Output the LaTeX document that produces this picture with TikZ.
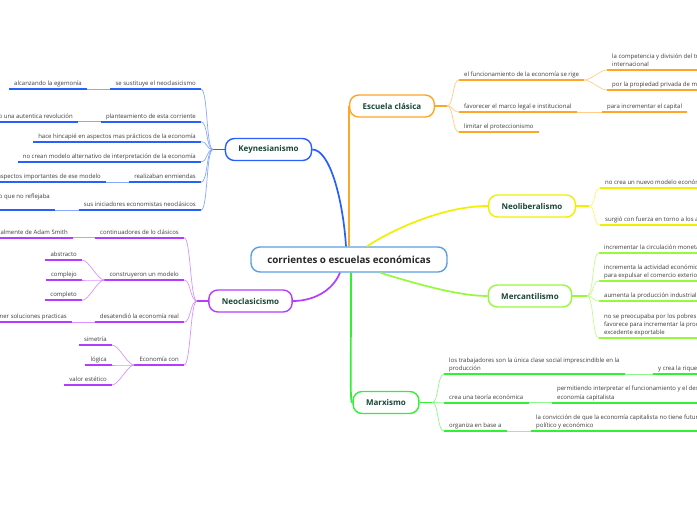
\documentclass[tikz,border=0pt]{standalone}
\usepackage{fontspec}
\setmainfont{Open Sans}
\usetikzlibrary{positioning}

\definecolor{rootC}{RGB}{90,160,225}
\definecolor{keyC}{RGB}{40,95,255}
\definecolor{eclC}{RGB}{255,165,40}
\definecolor{nlibC}{RGB}{240,240,0}
\definecolor{mercC}{RGB}{150,250,60}
\definecolor{marxC}{RGB}{50,240,50}
\definecolor{nclC}{RGB}{180,60,255}
\definecolor{labelC}{RGB}{25,70,55}
\definecolor{textC}{RGB}{60,60,60}

\tikzset{
  topic/.style={draw=#1, line width=1.4pt, fill=white, rounded corners=9pt,
    minimum height=22pt, inner xsep=13pt, text=labelC,
    font=\fontsize{8}{9.5}\selectfont\bfseries},
  sub/.style={inner xsep=5pt, inner ysep=1pt, text=textC, align=left,
    font=\fontsize{6}{8.3}\selectfont, execute at end node=\strut,
    append after command={(\tikzlastnode.south west) edge[draw=#1, line width=1.7pt] (\tikzlastnode.south east)}},
  trunk/.style={draw=#1, line width=1.7pt},
  stem/.style={draw=#1, line width=1.7pt},
  twig/.style={draw=#1!55, line width=0.7pt, out distance=7pt, in distance=7pt},
}

\begin{document}
\begin{tikzpicture}[x=1pt,y=-1pt]
    \useasboundingbox (0,0) rectangle (697,520);
    \fill[white] (0,0) rectangle (697,520);
    \clip (0,0) rectangle (697,520);

    % Central topic and main topics
    \node[topic=rootC, minimum width=196pt, minimum height=25pt, text=black!85,
      font=\fontsize{9.8}{11}\selectfont\bfseries] (root) at (349,259.5) {corrientes o escuelas económicas};
    \node[topic=eclC] (ecl) at (392,106) {Escuela clásica};
    \node[topic=keyC] (key) at (268.5,149.5) {Keynesianismo};
    \node[topic=nlibC] (nlib) at (532,206) {Neoliberalismo};
    \node[topic=mercC] (merc) at (530,296) {Mercantilismo};
    \node[topic=nclC] (ncl) at (250.5,301) {Neoclasicismo};
    \node[topic=marxC] (marx) at (386,402.5) {Marxismo};

    % Connectors from the central topic
    \draw[trunk=keyC] ([xshift=-3pt]root.north) .. controls (343,200) and (330,149.5) .. (key.east);
    \draw[trunk=eclC] (root.north -| ecl.west) -- (ecl.west);
    \draw[trunk=nlibC] ([xshift=18pt]root.north) .. controls (395,228) and (445,206) .. (nlib.west);
    \draw[trunk=mercC] ([xshift=31pt]root.south) .. controls (420,285) and (460,296) .. (merc.west);
    \draw[trunk=nclC] ([xshift=-9pt]root.south) .. controls (332,292) and (312,301) .. (ncl.east);
    \draw[trunk=marxC] ([xshift=2pt]root.south) .. controls (351,390) and (350,402.5) .. (marx.west);

    % Escuela clasica
    \coordinate (eclfork) at (447,106);
    \draw[stem=eclC] (ecl.east) -- (eclfork);
    \node[sub=eclC, anchor=south west] (ecl1) at (459,80) {el funcionamiento de la economía se rige};
    \node[sub=eclC, anchor=south west] (ecl2) at (459,112) {favorecer el marco legal e institucional};
    \node[sub=eclC, anchor=south west] (ecl3) at (459,132) {limitar el proteccionismo};
    \foreach \n in {ecl1,ecl2,ecl3}
        \draw[twig=eclC] (eclfork) to[out=0,in=180] (\n.south west);
    \node[sub=eclC, anchor=south west] (ecl1a) at (607,70) {la competencia  y división del trabajo\\internacional};
    \node[sub=eclC, anchor=south west] (ecl1b) at (607,90) {por la propiedad privada de medios de producción};
    \node[sub=eclC, anchor=south west] (ecl2a) at (602,112) {para incrementar el capital};
    \draw[twig=eclC] (ecl1.south east) to[out=0,in=180] (ecl1a.south west);
    \draw[twig=eclC] (ecl1.south east) to[out=0,in=180] (ecl1b.south west);
    \draw[twig=eclC] (ecl2.south east) -- (ecl2a.south west);

    % Keynesianismo
    \coordinate (keyfork) at (213,149.5);
    \draw[stem=keyC] (key.west) -- (keyfork);
    \node[sub=keyC, anchor=south east] (key1) at (201,89.3) {se sustituye el neoclasicismo};
    \node[sub=keyC, anchor=south east] (key2) at (201,121.7) {planteamiento de esta corriente};
    \node[sub=keyC, anchor=south east] (key3) at (201,141.7) {hace hincapié en aspectos mas prácticos de la economía};
    \node[sub=keyC, anchor=south east] (key4) at (201,161.7) {no crean modelo alternativo de interpretación de la economía};
    \node[sub=keyC, anchor=south east] (key5) at (201,182.3) {realizaban enmiendas};
    \node[sub=keyC, anchor=south east] (key6) at (201,210) {sus iniciadores economistas neoclásicos};
    \foreach \n in {key1,key2,key3,key4,key5,key6}
        \draw[twig=keyC] (keyfork) to[out=180,in=0] (\n.south east);
    \node[sub=keyC, anchor=south east] (key1a) at (87,89.3) {alcanzando la egemonía};
    \node[sub=keyC, anchor=south east] (key2a) at (78,121.7) {o una autentica revolución};
    \node[sub=keyC, anchor=south east] (key5a) at (106,182.3) {aspectos importantes de ese modelo};
    \node[sub=keyC, anchor=south east] (key6a) at (55,210) {o que no reflejaba\\\mbox{}};
    \draw[twig=keyC] (key1.south west) -- (key1a.south east);
    \draw[twig=keyC] (key2.south west) -- (key2a.south east);
    \draw[twig=keyC] (key5.south west) -- (key5a.south east);
    \draw[twig=keyC] (key6.south west) -- (key6a.south east);

    % Neoliberalismo
    \coordinate (nlibfork) at (589,206);
    \draw[stem=nlibC] (nlib.east) -- (nlibfork);
    \node[sub=nlibC, anchor=south west] (nlib1) at (600,188.3) {no crea un nuevo modelo económico};
    \node[sub=nlibC, anchor=south west] (nlib2) at (600,225.3) {surgió con fuerza en torno a los años setenta};
    \foreach \n in {nlib1,nlib2}
        \draw[twig=nlibC] (nlibfork) to[out=0,in=180] (\n.south west);

    % Mercantilismo
    \coordinate (mercfork) at (587,296);
    \draw[stem=mercC] (merc.east) -- (mercfork);
    \node[sub=mercC, anchor=south west] (merc1) at (599,252.7) {incrementar la circulación monetaria};
    \node[sub=mercC, anchor=south west] (merc2) at (599,281) {incrementa la actividad económica interna\\para expulsar el comercio exterior};
    \node[sub=mercC, anchor=south west] (merc3) at (599,301) {aumenta la producción industrial y agrícola};
    \node[sub=mercC, anchor=south west] (merc4) at (599,338.3) {no se preocupaba por los pobres ya que\\favorece para incrementar la producción y el\\excedente exportable};
    \foreach \n in {merc1,merc2,merc3,merc4}
        \draw[twig=mercC] (mercfork) to[out=0,in=180] (\n.south west);

    % Neoclasicismo
    \coordinate (nclfork) at (197,301);
    \draw[stem=nclC] (ncl.west) -- (nclfork);
    \node[sub=nclC, anchor=south east] (ncl1) at (184,237.7) {continuadores de lo clásicos};
    \node[sub=nclC, anchor=south east] (ncl2) at (184,280) {construyeron  un modelo};
    \node[sub=nclC, anchor=south east] (ncl3) at (184,322.3) {desatendió la economía real};
    \node[sub=nclC, anchor=south east] (ncl4) at (184,365) {Economía con};
    \foreach \n in {ncl1,ncl2,ncl3,ncl4}
        \draw[twig=nclC] (nclfork) to[out=180,in=0] (\n.south east);
    \node[sub=nclC, anchor=south east] (ncl1a) at (73,237.7) {almente de Adam Smith};
    \node[sub=nclC, anchor=south east] (ncl3a) at (72,322.3) {ner soluciones practicas};
    \draw[twig=nclC] (ncl1.south west) -- (ncl1a.south east);
    \draw[twig=nclC] (ncl3.south west) -- (ncl3a.south east);
    \node[sub=nclC, anchor=south east] (ncl2a) at (82,260) {abstracto};
    \node[sub=nclC, anchor=south east] (ncl2b) at (82,280) {complejo};
    \node[sub=nclC, anchor=south east] (ncl2c) at (82,300.3) {completo};
    \foreach \n in {ncl2a,ncl2b,ncl2c}
        \draw[twig=nclC] (ncl2.south west) to[out=180,in=0] (\n.south east);
    \node[sub=nclC, anchor=south east] (ncl4a) at (112,345) {simetría};
    \node[sub=nclC, anchor=south east] (ncl4b) at (112,365) {lógica};
    \node[sub=nclC, anchor=south east] (ncl4c) at (112,385) {valor estético};
    \foreach \n in {ncl4a,ncl4b,ncl4c}
        \draw[twig=nclC] (ncl4.south west) to[out=180,in=0] (\n.south east);

    % Marxismo
    \coordinate (marxfork) at (432,402.5);
    \draw[stem=marxC] (marx.east) -- (marxfork);
    \node[sub=marxC, anchor=south west] (marx1) at (444,374.3) {los trabajadores son la única clase social imprescindible en la\\producción};
    \node[sub=marxC, anchor=south west] (marx2) at (444,402.7) {crea una teoría económica};
    \node[sub=marxC, anchor=south west] (marx3) at (444,431) {organiza en base a};
    \foreach \n in {marx1,marx2,marx3}
        \draw[twig=marxC] (marxfork) to[out=0,in=180] (\n.south west);
    \node[sub=marxC, anchor=south west] (marx1a) at (653,374.3) {y  crea la riqueza};
    \node[sub=marxC, anchor=south west] (marx2a) at (552,402.7) {permitiendo interpretar el funcionamiento y el desarrollo de la\\economía capitalista};
    \node[sub=marxC, anchor=south west] (marx3a) at (531,431) {la convicción de que la economía capitalista no tiene futuro\\político y económico};
    \draw[twig=marxC] (marx1.south east) -- (marx1a.south west);
    \draw[twig=marxC] (marx2.south east) -- (marx2a.south west);
    \draw[twig=marxC] (marx3.south east) -- (marx3a.south west);
\end{tikzpicture}
\end{document}
